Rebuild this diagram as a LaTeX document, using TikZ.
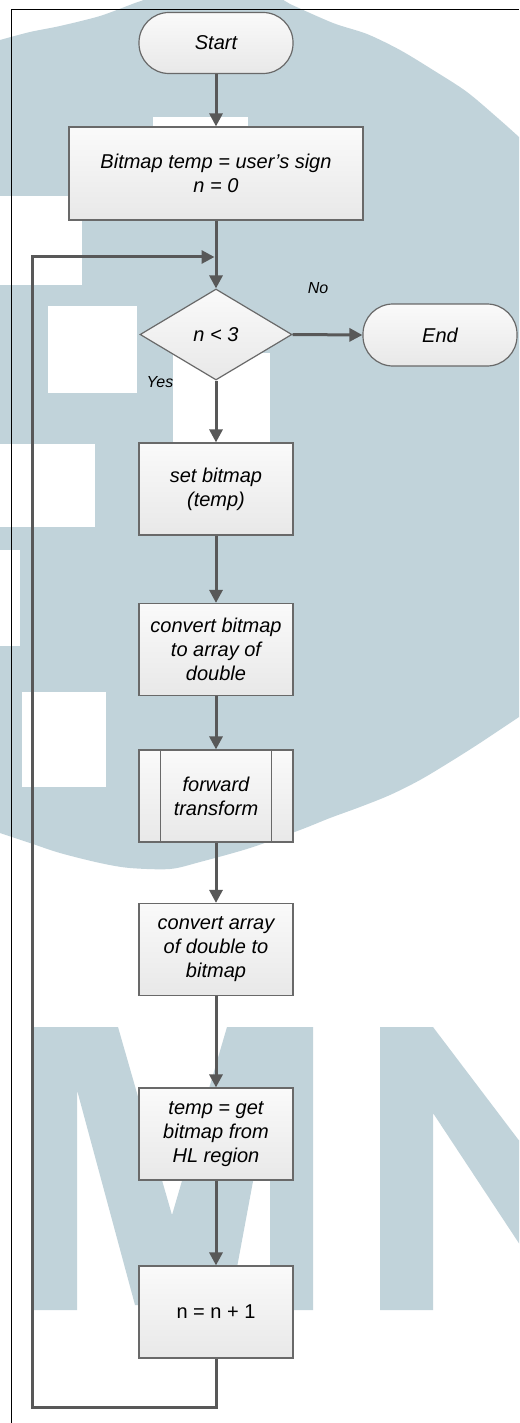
\documentclass[tikz,border=0pt]{standalone}
\usepackage{fontspec}
\setmainfont{Liberation Sans}
\usetikzlibrary{arrows.meta,shapes.geometric}
\definecolor{wm}{RGB}{193,211,218}
\definecolor{edge}{RGB}{105,105,105}
\definecolor{flow}{RGB}{88,88,88}
\tikzset{
  base/.style={draw=edge, line width=1.2pt, top color=white!98!black,
    bottom color=white!91!black, text=black, align=center, inner sep=0pt,
    font=\fontsize{20}{24}\selectfont\itshape},
  process/.style={base, rectangle, minimum width=154pt, minimum height=92pt},
  terminal/.style={base, rectangle, rounded corners=30pt, minimum width=154pt, minimum height=61pt},
  decision/.style={base, diamond, minimum width=152pt, minimum height=91pt},
  flowline/.style={draw=flow, line width=3pt},
  flowarrow/.style={flowline, -{Triangle[length=13pt,width=13pt]}},
  branch/.style={font=\fontsize{16}{19}\selectfont\itshape, text=black, inner sep=0pt},
}
\begin{document}
\begin{tikzpicture}[x=1pt, y=-1pt]
\useasboundingbox (0,0) rectangle (519,1423);
\begin{scope}
\clip (0,0) rectangle (519,1423);
% pale logo in the background
\fill[wm] (-5,42)
  -- plot[smooth, tension=0.5] coordinates {(0,40) (30,32) (60,26) (100,16) (135,3) (150,-2)}
  -- (280,-2)
  -- plot[smooth, tension=0.5] coordinates {(290,4) (333,23) (367,34) (400,50) (433,70) (467,92) (500,120) (519,137)}
  -- (525,137) -- (525,717)
  -- plot[smooth, tension=0.5] coordinates {(519,717) (480,743) (450,762) (420,780)
       (390,795) (360,807) (330,818) (300,830) (250,848) (200,862) (170,869)
       (130,868) (100,863) (60,853) (30,843) (0,833)}
  -- (-5,833) -- cycle;
\fill[white] (-5,196) rectangle (82,285);
\fill[white] (48,306) rectangle (137,393);
\fill[white] (-5,444) rectangle (95,527);
\fill[white] (-5,550) rectangle (20,646);
\fill[white] (22,692) rectangle (106,787);
\fill[white] (153,117) rectangle (248,128);
\fill[white] (173,353) rectangle (270,443);
% letter M
\fill[wm] (33,1027) -- (118,1027) -- (172,1215) -- (227,1027) -- (313,1027)
  -- (313,1310) -- (270,1310) -- (270,1090) -- (230,1305) -- (135,1305)
  -- (77,1090) -- (77,1310) -- (33,1310) -- cycle;
% letter N
\fill[wm] (380,1027) -- (433,1027) -- (530,1155) -- (530,1260) -- (433,1113)
  -- (433,1310) -- (380,1310) -- cycle;
\end{scope}
% frame
\draw[black, line width=1.3pt] (11.5,1423) -- (11.5,9.5) -- (519,9.5);

% flowchart nodes
\node[terminal] (start) at (216,43) {Start};
\node[process, minimum width=294pt, minimum height=93pt] (init) at (216,173.5)
  {Bitmap temp = user's sign\\n = 0};
\node[decision] (test) at (216,334.5) {n < 3};
\node[terminal, minimum height=62pt] (stop) at (440,335) {End};
\node[process] (setbmp) at (216,489) {set bitmap\\(temp)};
\node[process] (toarr) at (216,649.5) {convert bitmap\\to array of\\double};
\node[process] (fwd) at (216,796) {forward\\transform};
\draw[edge, line width=1.2pt] ([xshift=22pt]fwd.north west) -- ([xshift=22pt]fwd.south west);
\draw[edge, line width=1.2pt] ([xshift=-22pt]fwd.north east) -- ([xshift=-22pt]fwd.south east);
\node[process] (tobmp) at (216,949.5) {convert array\\of double to\\bitmap};
\node[process] (gethl) at (216,1134) {temp = get\\bitmap from\\HL region};
\node[process, font=\fontsize{20}{24}\selectfont\upshape] (inc) at (216,1312) {n = n + 1};

% branch labels
\node[branch] (nolbl) at (318,288) {No};
\node[branch] (yeslbl) at (160,382) {Yes};

% connectors
\coordinate (merge) at (214.5,257);
\coordinate (loopbl) at (32,1407);
\coordinate (looptl) at (32,257);
\draw[flowarrow] (start) -- (init);
\draw[flowarrow] (init) -- (test.north);
\draw[flowarrow] (test.east) -- (stop.west);
\draw[flowarrow] (test.south) -- (setbmp);
\draw[flowarrow] (setbmp) -- (toarr);
\draw[flowarrow] (toarr) -- (fwd);
\draw[flowarrow] (fwd) -- (tobmp);
\draw[flowarrow] (tobmp) -- (gethl);
\draw[flowarrow] (gethl) -- (inc);
\draw[flowarrow] (inc.south) |- (loopbl) -- (looptl) -- (merge);
\end{tikzpicture}
\end{document}
